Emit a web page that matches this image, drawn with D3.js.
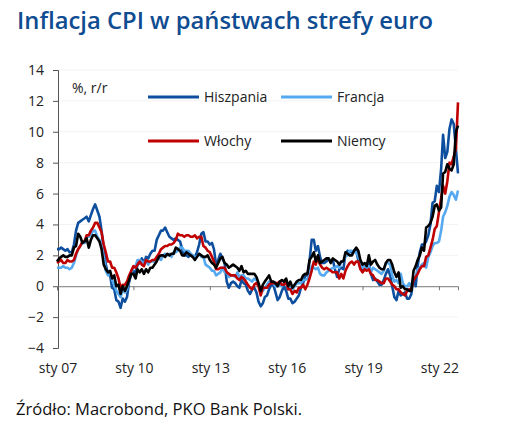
<!DOCTYPE html>
<html><head><meta charset="utf-8">
<script src="https://cdn.jsdelivr.net/npm/d3@7"></script>
<style>
html,body{margin:0;padding:0;background:#fff;}
svg{display:block;}
</style></head>
<body>
<svg id="chart" width="510" height="422"></svg>
<script>
const title = "Inflacja CPI w państwach strefy euro";
const unitLabel = "%, r/r";
const source = "Źródło: Macrobond, PKO Bank Polski.";
const startMonth = "2007-01";
const yTicks = [-4,-2,0,2,4,6,8,10,12,14];
const xTickYears = [2007,2010,2013,2016,2019,2022];
const xTickLabels = ["sty 07","sty 10","sty 13","sty 16","sty 19","sty 22"];
const seriesNames = ["Hiszpania","Francja","Włochy","Niemcy"];

const hiszpania = [
2.4,2.4,2.5,2.4,2.3,2.4,2.2,2.2,2.7,3.6,4.1,4.2,
4.3,4.4,4.5,4.2,4.6,5.0,5.3,4.9,4.5,3.6,2.4,1.4,
0.8,0.7,-0.1,-0.2,-0.9,-1.0,-1.4,-0.8,-1.0,-0.7,0.3,0.8,
1.0,0.8,1.4,1.5,1.8,1.5,1.9,1.8,2.1,2.3,2.3,3.0,
3.3,3.6,3.6,3.8,3.5,3.2,3.1,3.0,3.1,3.0,2.9,2.4,
2.0,2.0,1.9,2.1,1.9,1.9,2.2,2.7,3.4,3.5,2.9,2.9,
2.7,2.8,2.4,1.4,1.7,2.1,1.8,1.5,0.3,-0.1,0.2,0.3,
0.2,0.0,-0.1,0.4,0.2,0.1,-0.3,-0.5,-0.2,-0.1,-0.4,-1.0,
-1.3,-1.1,-0.7,-0.6,-0.2,0.1,0.1,-0.4,-0.9,-0.7,-0.3,0.0,
-0.3,-0.8,-0.8,-1.1,-1.0,-0.8,-0.6,-0.1,0.2,0.7,0.7,1.6,
3.0,3.0,2.3,2.6,1.9,1.5,1.5,1.6,1.8,1.6,1.7,1.1,
0.6,1.1,1.2,1.1,2.1,2.3,2.2,2.2,2.3,2.3,1.7,1.2,
1.0,1.1,1.3,1.5,0.8,0.4,0.5,0.3,0.1,0.1,0.4,0.8,
1.1,0.7,0.0,-0.7,-0.9,-0.3,-0.6,-0.5,-0.4,-0.8,-0.8,-0.5,
0.5,0.0,1.3,2.2,2.7,2.7,2.9,3.3,4.0,5.4,5.5,6.5,
6.1,7.6,9.8,8.3,8.7,10.2,10.8,10.5,8.9,7.3];

const francja = [
1.2,1.2,1.2,1.3,1.2,1.2,1.1,1.2,1.5,2.0,2.4,2.6,
2.8,2.8,3.2,3.2,3.3,3.6,3.6,3.2,3.0,2.7,1.9,1.0,
0.7,0.9,0.4,0.1,-0.3,-0.5,-0.7,-0.2,-0.4,-0.2,0.4,0.9,
1.2,1.3,1.7,1.7,1.6,1.5,1.7,1.4,1.6,1.6,1.6,1.8,
1.8,1.7,2.0,2.1,2.0,2.1,1.9,2.2,2.2,2.3,2.5,2.5,
2.3,2.3,2.3,2.1,2.0,1.9,1.9,2.1,1.9,1.9,1.4,1.3,
1.2,1.0,1.0,0.7,0.8,0.9,1.2,0.9,0.9,0.6,0.7,0.7,
0.6,0.9,0.6,0.7,0.7,0.5,0.5,0.4,0.3,0.5,0.4,0.1,
-0.4,-0.3,-0.1,0.1,0.3,0.3,0.2,0.0,0.0,0.1,0.0,0.2,
0.2,-0.2,-0.1,-0.2,0.0,0.2,0.2,0.2,0.4,0.4,0.5,0.6,
1.3,1.2,1.1,1.2,0.8,0.7,0.7,0.9,1.0,1.1,1.2,1.2,
1.3,1.2,1.6,1.6,2.0,2.0,2.3,2.3,2.2,2.2,1.9,1.6,
1.2,1.3,1.1,1.3,0.9,1.2,1.1,1.0,0.9,0.8,1.0,1.5,
1.5,1.4,0.7,0.3,0.4,0.2,0.8,0.2,0.0,0.0,0.2,0.0,
0.6,0.6,1.1,1.2,1.4,1.5,1.2,1.9,2.2,2.6,2.8,2.8,
2.9,3.6,4.5,4.8,5.2,5.8,6.1,5.9,5.6,6.2];

const wlochy = [
1.5,1.6,1.7,1.5,1.5,1.7,1.6,1.6,1.7,2.1,2.4,2.6,
2.9,2.9,3.3,3.3,3.6,3.8,4.1,4.1,3.8,3.5,2.7,2.2,
1.6,1.6,1.2,1.2,0.9,0.5,-0.1,0.1,0.1,0.3,0.7,1.0,
1.3,1.2,1.4,1.6,1.4,1.3,1.7,1.6,1.6,1.7,1.7,1.9,
2.1,2.4,2.5,2.6,2.6,2.7,2.7,2.8,3.0,3.4,3.3,3.3,
3.2,3.3,3.3,3.2,3.2,3.3,3.1,3.2,3.2,2.6,2.5,2.3,
2.2,1.9,1.6,1.1,1.1,1.2,1.2,1.2,0.9,0.8,0.7,0.7,
0.7,0.5,0.4,0.6,0.5,0.3,0.1,-0.1,-0.2,0.1,0.2,0.0,
-0.6,-0.1,-0.1,-0.1,0.1,0.2,0.2,0.2,0.2,0.3,0.1,0.1,
0.3,-0.2,-0.2,-0.5,-0.3,-0.4,-0.1,-0.1,0.1,-0.2,0.1,0.5,
1.0,1.6,1.4,1.9,1.4,1.2,1.1,1.2,1.1,1.0,0.9,0.9,
0.9,0.5,0.8,0.5,1.0,1.3,1.5,1.6,1.4,1.6,1.6,1.1,
0.9,1.1,1.0,1.1,0.8,0.7,0.4,0.4,0.3,0.2,0.2,0.5,
0.5,0.3,0.1,0.0,-0.2,-0.2,-0.4,-0.5,-0.6,-0.3,-0.2,-0.2,
0.4,0.6,0.8,1.1,1.3,1.3,1.9,2.0,2.5,3.0,3.7,3.9,
4.8,5.7,6.5,6.0,6.8,8.0,7.9,8.4,8.9,11.9];

const niemcy = [
1.6,1.8,1.9,2.0,1.9,1.9,2.0,2.0,2.5,2.6,3.4,3.2,
2.8,2.9,3.1,2.5,3.0,3.3,3.3,3.1,2.9,2.4,1.4,1.1,
0.9,1.0,0.5,0.7,0.0,0.1,-0.5,0.0,-0.3,0.0,0.4,0.8,
0.8,0.5,1.1,0.9,1.1,0.8,1.1,0.9,1.2,1.2,1.4,1.6,
1.9,2.0,2.0,1.9,2.1,2.0,2.1,2.1,2.5,2.4,2.3,2.0,
2.0,2.2,2.1,2.0,1.9,1.7,1.9,2.1,2.0,1.9,1.9,2.0,
1.7,1.5,1.4,1.2,1.5,1.8,1.9,1.5,1.4,1.2,1.3,1.4,
1.3,1.2,1.0,1.3,0.9,1.0,0.8,0.8,0.8,0.8,0.6,0.2,
-0.3,0.1,0.3,0.5,0.7,0.3,0.3,0.2,0.0,0.3,0.4,0.3,
0.5,0.0,0.3,-0.1,0.1,0.3,0.4,0.4,0.7,0.8,0.8,1.7,
1.9,2.2,1.6,2.0,1.5,1.6,1.7,1.8,1.8,1.5,1.8,1.7,
1.6,1.4,1.6,1.6,2.2,2.1,2.0,2.0,2.3,2.5,2.3,1.7,
1.4,1.5,1.3,2.0,1.4,1.6,1.7,1.4,1.2,1.1,1.1,1.5,
1.7,1.7,1.4,0.9,0.6,0.9,-0.1,0.0,-0.2,-0.2,-0.3,-0.3,
1.0,1.3,1.7,2.0,2.5,2.3,3.8,3.9,4.1,4.5,5.2,5.3,
4.9,5.1,7.3,7.4,7.9,7.6,7.5,7.9,10.0,10.4];

const colors = {"Hiszpania":"#0d4f9e","Francja":"#55a9f0","Włochy":"#c00000","Niemcy":"#000000"};
const seriesData = {"Hiszpania":hiszpania,"Francja":francja,"Włochy":wlochy,"Niemcy":niemcy};

const svg = d3.select("#chart");
const parse = d3.timeParse("%Y-%m");
const t0 = parse(startMonth);
const dateAt = i => d3.timeMonth.offset(t0, i);

const x = d3.scaleTime().domain([t0, dateAt(hiszpania.length-1)]).range([57, 458]);
const y = d3.scaleLinear().domain([-4,14]).range([348,70]);

const font = "'Open Sans', 'DejaVu Sans', sans-serif";

// title
svg.append("text").attr("x",17).attr("y",29)
  .attr("font-family",font).attr("font-size",23).attr("font-weight",600)
  .attr("fill","#0f4c92").attr("textLength", 416).attr("lengthAdjust","spacingAndGlyphs")
  .text(title);

// gridlines
svg.append("g").selectAll("line").data(yTicks.filter(v=>v!==0 && v!==-4)).join("line")
  .attr("x1",58).attr("x2",458).attr("y1",d=>y(d)).attr("y2",d=>y(d))
  .attr("stroke","#f3f3f3").attr("stroke-width",1);

// y axis
const yAxis = svg.append("g").attr("transform","translate(58,0)")
  .call(d3.axisLeft(y).tickValues(yTicks).tickSize(5).tickPadding(9).tickFormat(d3.format("d")));
yAxis.select(".domain").attr("stroke","#555");
yAxis.selectAll(".tick line").attr("stroke","#555");
yAxis.selectAll("text").attr("font-family",font).attr("font-size",14).attr("fill","#222");

// x axis at zero
const xAxis = svg.append("g").attr("transform",`translate(0,${y(0)})`)
  .call(d3.axisBottom(x).tickValues(xTickYears.map(yr=>new Date(yr,0,1))).tickSize(4).tickFormat(""));
xAxis.select(".domain").attr("stroke","#777");
xAxis.selectAll(".tick line").attr("stroke","#777");

// x labels
svg.append("g").selectAll("text").data(xTickYears).join("text")
  .attr("x",(d)=>x(new Date(d,0,1))+1).attr("y",373)
  .attr("text-anchor","middle").attr("font-family",font).attr("font-size",14).attr("fill","#222")
  .text((d,i)=>xTickLabels[i]);

// lines
const line = d3.line().x((d,i)=>x(dateAt(i))).y(d=>y(d)).curve(d3.curveLinear);
seriesNames.forEach(name=>{
  svg.append("path").datum(seriesData[name]).attr("d",line)
    .attr("fill","none").attr("stroke",colors[name]).attr("stroke-width",2.6)
    .attr("stroke-linejoin","round");
});

// unit label
svg.append("text").attr("x",72).attr("y",93).attr("font-family",font).attr("font-size",14)
  .attr("fill","#222").text(unitLabel);

// legend
const legendPos = [
  {name:"Hiszpania", x:148, y:97},
  {name:"Francja", x:281, y:97},
  {name:"Włochy", x:148, y:141},
  {name:"Niemcy", x:281, y:141}
];
const lg = svg.append("g").selectAll("g").data(legendPos).join("g")
  .attr("transform",d=>`translate(${d.x},${d.y})`);
lg.append("line").attr("x1",0).attr("x2",51).attr("y1",0).attr("y2",0)
  .attr("stroke",d=>colors[d.name]).attr("stroke-width",3);
lg.append("text").attr("x",56).attr("y",5).attr("font-family",font).attr("font-size",14)
  .attr("fill","#222").text(d=>d.name);

// source
svg.append("text").attr("x",16).attr("y",415).attr("font-family",font).attr("font-size",16.5)
  .attr("fill","#111").attr("textLength",286).attr("lengthAdjust","spacingAndGlyphs").text(source);
</script>
</body></html>
